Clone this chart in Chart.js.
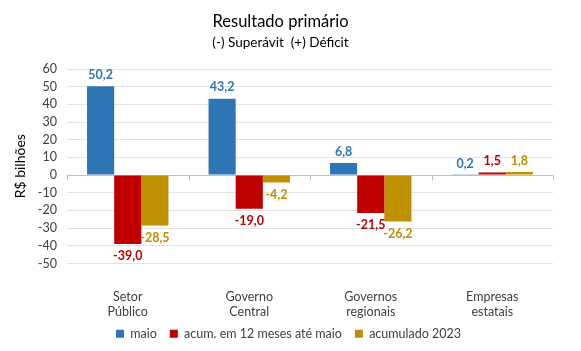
<!DOCTYPE html>
<html><head><meta charset="utf-8">
<script src="https://cdn.jsdelivr.net/npm/chart.js@4"></script>
<style>html,body{margin:0;padding:0;background:#fff}#wrap{width:581px;height:351px}</style>
</head><body><div id="wrap"><canvas id="c" width="581" height="351"></canvas></div>
<script>
const categories = [['Setor','Público'],['Governo','Central'],['Governos','regionais'],['Empresas','estatais']];
const maio = [50.2, 43.2, 6.8, 0.2];
const acum12 = [-39.0, -19.0, -21.5, 1.5];
const acum2023 = [-28.5, -4.2, -26.2, 1.8];
const seriesNames = ['maio','acum. em 12 meses até maio','acumulado 2023'];
const colors = ['#2E75B6','#C00000','#BF9000'];
const FONT = 'Lato, "Open Sans", sans-serif';

const labelPlugin = {
  id:'barLabels',
  afterDatasetsDraw(chart){
    const ctx = chart.ctx;
    ctx.save();
    ctx.font = 'bold 12.5px ' + FONT;
    ctx.textAlign = 'center';
    chart.data.datasets.forEach((ds,i)=>{
      const meta = chart.getDatasetMeta(i);
      meta.data.forEach((el,j)=>{
        const v = ds.data[j];
        ctx.fillStyle = ds.labelColor;
        const txt = v.toFixed(1).replace('.',',');
        if (v >= 0){ ctx.textBaseline='bottom'; ctx.fillText(txt, el.x, el.y - 5); }
        else { ctx.textBaseline='top'; ctx.fillText(txt, el.x, el.y + 6); }
      });
    });
    ctx.restore();
  }
};
const zeroTicks = {
  id:'zeroTicks',
  afterDatasetsDraw(chart){
    const x = chart.scales.x, y = chart.scales.y, ctx = chart.ctx;
    const y0 = Math.round(y.getPixelForValue(0)) + 0.5;
    ctx.save();
    ctx.strokeStyle = '#BFBFBF'; ctx.lineWidth = 1;
    const n = chart.data.labels.length, w = (x.right - x.left)/n;
    for (let k=0;k<=n;k++){
      const px = Math.round(x.left + k*w) + 0.5;
      ctx.beginPath(); ctx.moveTo(px, y0); ctx.lineTo(px, y0+5); ctx.stroke();
    }
    ctx.restore();
  }
};
const legendShift = {
  id:'legendShift',
  afterLayout(chart){
    const lg = chart.legend;
    if (lg){ lg.left += 8; lg.right += 8; lg.top -= 7; lg.bottom -= 7; }
  }
};

new Chart(document.getElementById('c'), {
  type:'bar',
  data:{
    labels: categories,
    datasets:[
      {label:seriesNames[0], data:maio, backgroundColor:colors[0], labelColor:'#2E75B6'},
      {label:seriesNames[1], data:acum12, backgroundColor:colors[1], labelColor:'#C00000'},
      {label:seriesNames[2], data:acum2023, backgroundColor:colors[2], labelColor:'#BF9000'}
    ]
  },
  options:{
    responsive:false, animation:false,
    layout:{padding:{left:8,right:28,top:0,bottom:-6}},
    datasets:{bar:{barPercentage:1, categoryPercentage:0.67}},
    plugins:{
      title:{display:true, text:'Resultado primário', color:'#000', font:{family:FONT,size:16.5,weight:'normal'}, padding:{top:12,bottom:1}},
      subtitle:{display:true, text:'(-) Superávit  (+) Déficit', color:'#000', font:{family:FONT,size:13.5,weight:'normal'}, padding:{top:2,bottom:18}},
      legend:{position:'bottom', labels:{boxWidth:8, boxHeight:8, color:'#404040', font:{family:FONT,size:12.5}, padding:13}},
      tooltip:{enabled:false}
    },
    scales:{
      y:{min:-50, max:60, ticks:{stepSize:10, autoSkip:false, color:'#404040', font:{family:FONT,size:12.5}, padding:10},
         title:{display:true, text:'R$ bilhões', color:'#000', font:{family:FONT,size:14}},
         border:{display:false},
         grid:{drawTicks:false, color:(c)=> c.tick && c.tick.value===0 ? '#BFBFBF' : '#E3E3E3'},
         afterFit(s){ s.width = 59; }},
      x:{ticks:{color:'#404040', font:{family:FONT,size:12.5}, padding:18, autoSkip:false, maxRotation:0},
         grid:{display:false}, border:{display:false},
         afterFit(s){ s.height = 58; }}
    }
  },
  plugins:[labelPlugin, zeroTicks, legendShift]
});
</script></body></html>
